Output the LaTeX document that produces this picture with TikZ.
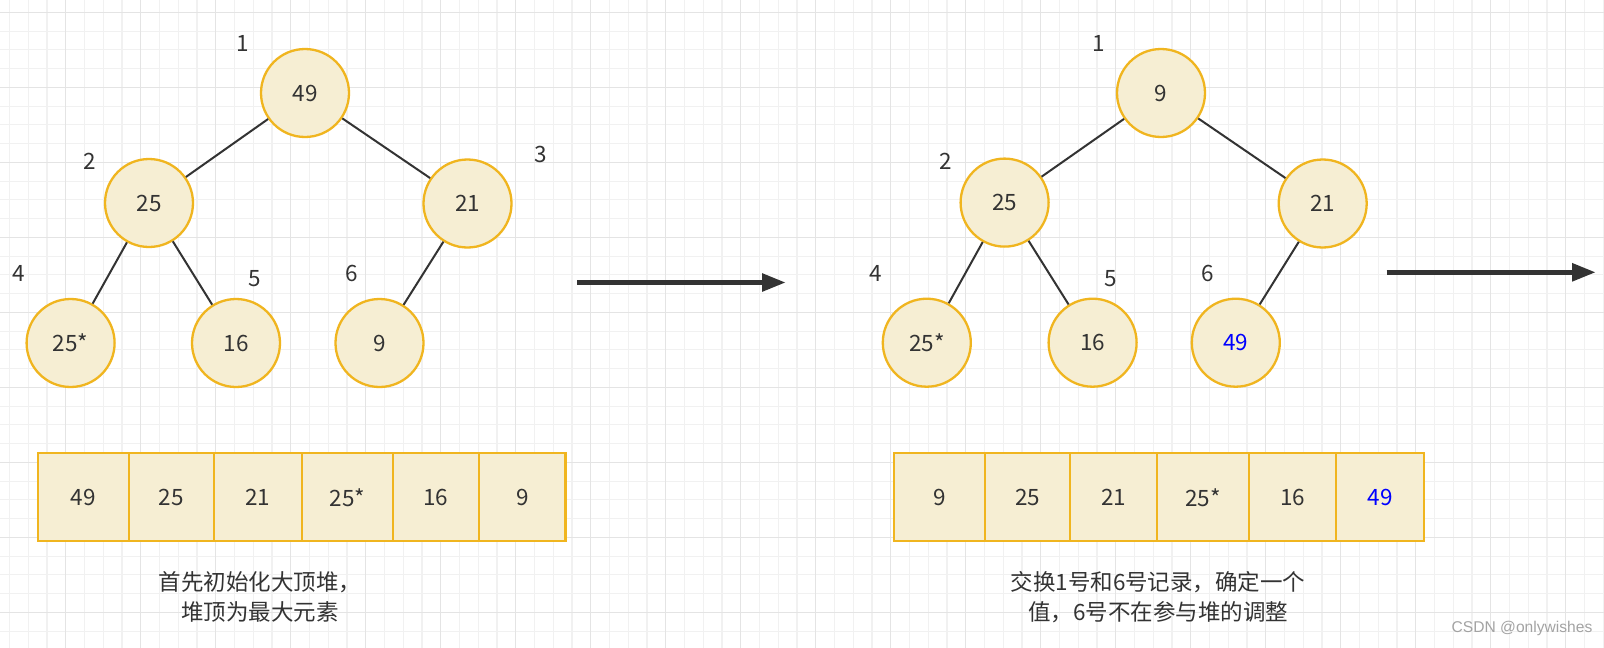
\documentclass[tikz,border=0pt]{standalone}
\usepackage{fontspec}
\setmainfont{Noto Sans CJK SC}
\newfontfamily\wmfont{Liberation Sans}
\usetikzlibrary{arrows.meta}
\definecolor{nodefill}{HTML}{F6EED3}
\definecolor{nodeline}{HTML}{F0B51F}
\definecolor{ink}{HTML}{333333}
\definecolor{gridminor}{HTML}{F1F1F1}
\definecolor{gridmajor}{HTML}{E4E4E4}
\definecolor{bluetext}{HTML}{0000FF}
\definecolor{wmgray}{HTML}{A3A3A3}
\begin{document}
\begin{tikzpicture}[x=1pt,y=-1pt,
  heapnode/.style={circle, draw=nodeline, fill=nodefill, line width=2.3pt, minimum size=88pt, inner sep=0pt, font=\fontsize{22.5}{27}\selectfont, text=ink},
  cell/.style={rectangle, draw=nodeline, fill=nodefill, line width=2.5pt, minimum height=88pt, inner sep=0pt, font=\fontsize{22.5}{27}\selectfont, text=ink},
  idx/.style={inner sep=0pt, font=\fontsize{22.5}{27}\selectfont, text=ink},
  treeedge/.style={draw=ink, line width=2pt},
  bigarrow/.style={draw=ink, line width=5.5pt, -{Triangle[length=24pt,width=17pt]}},
  captiontext/.style={align=center, inner sep=0pt, font=\fontsize{22.5}{30}\selectfont, text=ink},
  minorline/.style={draw=gridminor, line width=1.1pt},
  majorline/.style={draw=gridmajor, line width=1.4pt}]
\useasboundingbox (0,0) rectangle (1604,648);
\fill[white] (0,0) rectangle (1604,648);
% grid
\foreach \i in {0,...,85} \draw[minorline] ({9.45+18.75*\i},0) -- ++(0,648);
\foreach \i in {0,...,34} \draw[minorline] (0,{12.3+18.75*\i}) -- ++(1604,0);
\foreach \i in {0,...,20} \draw[majorline] ({65.7+75*\i},0) -- ++(0,648);
\foreach \i in {0,...,8} \draw[majorline] (0,{12.3+75*\i}) -- ++(1604,0);

% left tree
\node[heapnode] (l1) at (305,93) {49};
\node[heapnode] (l2) at (149,203) {25};
\node[heapnode] (l3) at (467.5,203.5) {21};
\node[heapnode] (l4) at (70.6,343) {25*};
\node[heapnode] (l5) at (236,343) {16};
\node[heapnode] (l6) at (379.5,343) {9};
\draw[treeedge] (l1) -- (l2);
\draw[treeedge] (l1) -- (l3);
\draw[treeedge] (l2) -- (l4);
\draw[treeedge] (l2) -- (l5);
\draw[treeedge] (l3) -- (l6);
\node[idx] (li1) at (242.5,43) {1};
\node[idx] (li2) at (90,161.6) {2};
\node[idx] (li3) at (541,154.5) {3};
\node[idx] (li4) at (18.4,273) {4};
\node[idx] (li5) at (254.7,279) {5};
\node[idx] (li6) at (352,273) {6};

% right tree
\node[heapnode] (r1) at (1161,93) {9};
\node[heapnode] (r2) at (1004.6,202.6) {25};
\node[heapnode] (r3) at (1322.7,203.5) {21};
\node[heapnode] (r4) at (926.8,342.7) {25*};
\node[heapnode] (r5) at (1092.6,342.7) {16};
\node[heapnode, text=bluetext] (r6) at (1235.8,342.7) {49};
\draw[treeedge] (r1) -- (r2);
\draw[treeedge] (r1) -- (r3);
\draw[treeedge] (r2) -- (r4);
\draw[treeedge] (r2) -- (r5);
\draw[treeedge] (r3) -- (r6);
\node[idx] (ri1) at (1098.7,43) {1};
\node[idx] (ri2) at (946,161.6) {2};
\node[idx] (ri4) at (875.7,273) {4};
\node[idx] (ri5) at (1111,279) {5};
\node[idx] (ri6) at (1208,273) {6};

% arrows
\coordinate (a1s) at (577,282.5);
\coordinate (a1e) at (786,282.5);
\coordinate (a2s) at (1386.7,272.3);
\coordinate (a2e) at (1596,272.3);
\draw[bigarrow] (a1s) -- (a1e);
\draw[bigarrow] (a2s) -- (a2e);

% left array
\node[cell, minimum width=91pt] (c1) at (83.4,497.2) {49};
\node[cell, minimum width=84.9pt] (c2) at (171.35,497.2) {25};
\node[cell, minimum width=88pt] (c3) at (257.8,497.2) {21};
\node[cell, minimum width=91pt] (c4) at (347.3,497.2) {25*};
\node[cell, minimum width=86pt] (c5) at (435.8,497.2) {16};
\node[cell, minimum width=86.9pt] (c6) at (522.25,497.2) {9};

% right array
\node[cell, minimum width=91pt] (d1) at (939.6,497.2) {9};
\node[cell, minimum width=85pt] (d2) at (1027.6,497.2) {25};
\node[cell, minimum width=86.9pt] (d3) at (1113.55,497.2) {21};
\node[cell, minimum width=92.1pt] (d4) at (1203.05,497.2) {25*};
\node[cell, minimum width=86.9pt] (d5) at (1292.55,497.2) {16};
\node[cell, minimum width=88pt, text=bluetext] (d6) at (1380,497.2) {49};

% captions
\node[captiontext] (capl) at (260,597) {首先初始化大顶堆，\\堆顶为最大元素};
\node[captiontext] (capr) at (1158,597) {交换1号和6号记录，确定一个\\值，6号不在参与堆的调整};

% watermark
\node[inner sep=0pt, text=wmgray, font=\wmfont\fontsize{15.6}{18}\selectfont] (wm) at (1522,628) {CSDN @onlywishes};
\end{tikzpicture}
\end{document}
